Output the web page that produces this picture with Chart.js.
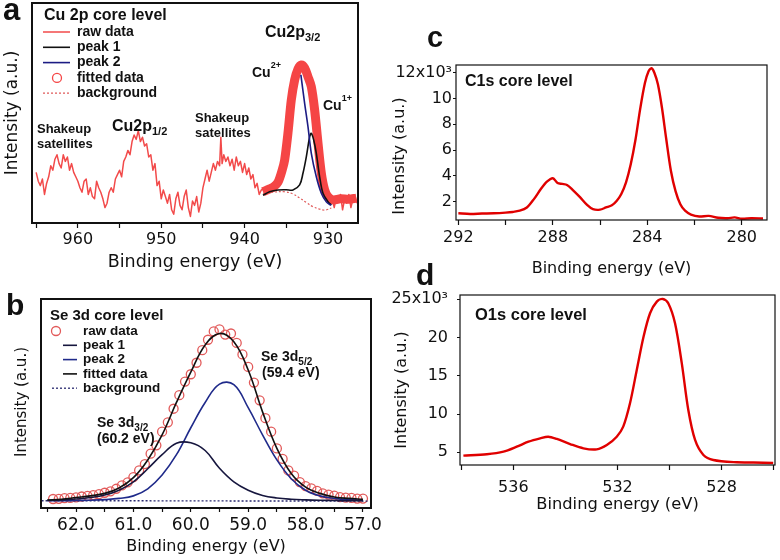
<!DOCTYPE html>
<html lang="en">
<head>
<meta charset="UTF-8">
<title>XPS core level spectra</title>
<style>
    body { margin: 0; background: #fff; }
    #wrap { position: relative; width: 780px; height: 560px; }
    #wrap canvas { position: absolute; left: 0; top: 0; }
</style>
</head>
<body>
<div id="wrap">
    <canvas id="cuChart" width="780" height="560"></canvas>
    <canvas id="seChart" width="780" height="560"></canvas>
    <canvas id="cChart" width="780" height="560"></canvas>
    <canvas id="oChart" width="780" height="560"></canvas>
</div>

<script src="https://cdn.jsdelivr.net/npm/chart.js"></script>
<script>
// ---- panel a : Cu 2p (arbitrary units, 0..100) ----
const cuRawEnergy = [965.0, 964.75, 964.5, 964.25, 964.0, 963.75, 963.5, 963.25, 963.0, 962.75, 962.5, 962.25, 962.0, 961.75, 961.5, 961.25,
    961.0, 960.75, 960.5, 960.25, 960.0, 959.75, 959.5, 959.25, 959.0, 958.75, 958.5, 958.25, 958.0, 957.75, 957.5, 957.25,
    957.0, 956.75, 956.5, 956.25, 956.0, 955.75, 955.5, 955.25, 955.0, 954.75, 954.5, 954.25, 954.0, 953.75, 953.5, 953.25,
    953.0, 952.75, 952.5, 952.25, 952.0, 951.75, 951.5, 951.25, 951.0, 950.75, 950.5, 950.25, 950.0, 949.75, 949.5, 949.25,
    949.0, 948.75, 948.5, 948.25, 948.0, 947.75, 947.5, 947.25, 947.0, 946.75, 946.5, 946.25, 946.0, 945.75, 945.5, 945.25,
    945.0, 944.75, 944.5, 944.25, 944.0, 943.75, 943.5, 943.25, 943.0, 942.85, 942.7, 942.5, 942.25, 942.0, 941.75, 941.5,
    941.25, 941.0, 940.75, 940.5, 940.25, 940.0, 939.75, 939.5, 939.25, 939.0, 938.75, 938.5, 938.25, 938.0, 937.5, 937.0,
    936.5, 936.0, 935.5, 935.0, 934.5, 934.0, 933.5, 933.0, 932.5, 932.0, 931.5, 931.0, 930.5, 930.0, 929.75, 929.5,
    929.25, 929.0, 928.75, 928.5, 928.25, 928.0, 927.75, 927.5, 927.25, 927.0, 926.75, 926.5];
const cuRaw = [23, 19, 17, 20, 13, 18, 21, 26, 24, 29, 31, 27, 25, 31, 28, 30,
    24, 27, 23, 21, 19, 16, 14, 19, 20, 13, 16, 12, 11, 19, 16, 14,
    11, 7, 9, 14, 16, 14, 20, 22, 24, 21, 28, 30, 33, 31, 37, 40,
    38, 42, 37, 39, 35, 36, 30, 31, 24, 27, 17, 19, 11, 15, 12, 9,
    13, 6, 4, 11, 14, 8, 6, 12, 15, 7, 3, 10, 8, 12, 5, 9,
    16, 20, 24, 19, 23, 27, 24, 28, 26, 39, 27, 31, 28, 30, 26, 29,
    24, 30, 26, 28, 23, 27, 22, 25, 20, 22, 16, 18, 13, 15, 16, 17,
    17, 19, 24, 33, 50, 63, 70, 71, 67, 60, 48, 30, 17, 12, 9, 11,
    7, 12, 10, 13, 6, 11, 9, 13, 7, 11, 12, 9];

const cuFitEnergy = [937.8, 937.0, 936.5, 936.0, 935.5, 935.2, 934.8, 934.4, 934.0, 933.6, 933.2, 932.8,
    932.4, 932.0, 931.6, 931.2, 930.8, 930.4, 930.0, 929.4, 928.5, 927.5, 926.6];
const cuFit = [14.2, 15.5, 16.5, 18.5, 24.0, 28.6, 40.9, 55.9, 65.0, 70.0, 71.8, 70.5,
    66.5, 62.0, 51.4, 36.4, 22.7, 15.0, 12.0, 10.5, 11.0, 10.8, 11.3];

const cuPeak1Energy = [937.8, 937.0, 936.0, 935.0, 934.2, 933.4, 933.0, 932.6, 932.2, 932.0, 931.7, 931.4, 931.0, 930.6, 930.0, 929.6];
const cuPeak1 = [12.6, 14.2, 15.0, 15.1, 15.0, 17.3, 22.6, 30.1, 39.2, 40.8, 37.5, 31.7, 21.0, 13.5, 9.7, 8.2];

const cuPeak2Energy = [933.25, 932.8, 932.4, 932.0, 931.4, 930.8, 930.2, 929.8, 929.6];
const cuPeak2 = [67.3, 54.4, 43.8, 31.7, 21.0, 13.5, 9.6, 8.4, 8.2];

const cuBgEnergy = [937.8, 936.6, 935.2, 934.2, 933.4, 932.6, 931.8, 931.0, 930.6, 930.2, 929.6];
const cuBg = [13.5, 14.0, 14.2, 13.2, 11.4, 9.3, 7.4, 6.3, 5.9, 6.0, 6.8];

// ---- panel b : Se 3d (arbitrary units, 0..100) ----
const seRawEnergy = [62.4, 62.3, 62.2, 62.1, 62.0, 61.9, 61.8, 61.7, 61.6, 61.5, 61.4, 61.3, 61.2, 61.1,
    61.0, 60.9, 60.8, 60.7, 60.6, 60.5, 60.4, 60.3, 60.2, 60.1, 60.0, 59.9, 59.8, 59.7, 59.6, 59.5,
    59.4, 59.3, 59.2, 59.1, 59.0, 58.9, 58.8, 58.7, 58.6, 58.5, 58.4, 58.3, 58.2, 58.1, 58.0, 57.9,
    57.8, 57.7, 57.6, 57.5, 57.4, 57.3, 57.2, 57.1, 57.0];
const seRaw = [4.3, 4.4, 4.7, 4.8, 5.1, 5.5, 5.8, 6.2, 6.6, 7.3, 8.0, 9.2, 10.8, 12.3,
    14.8, 18.0, 21.0, 26.0, 30.0, 36.5, 41.0, 47.5, 54.0, 60.5, 64.0, 69.5, 75.5, 80.5, 84.5, 85.5,
    83.0, 83.5, 79.0, 73.5, 67.5, 60.0, 51.5, 43.0, 36.5, 28.5, 23.5, 18.0, 15.5, 12.4, 10.5, 9.4,
    8.2, 7.0, 6.4, 5.9, 5.2, 5.0, 4.8, 4.5, 4.5];

const seEnergy = [62.5, 62.25, 62.0, 61.75, 61.5, 61.25, 61.0, 60.75, 60.5, 60.25, 60.0, 59.75,
    59.5, 59.25, 59.0, 58.75, 58.5, 58.25, 58.0, 57.75, 57.5, 57.25, 57.0];
const seFit = [3.8, 4.2, 5.0, 5.8, 7.0, 9.6, 14.5, 23.0, 35.0, 50.5, 65.0, 78.0,
    83.5, 79.5, 66.0, 46.0, 28.5, 16.5, 10.0, 7.0, 5.3, 4.6, 4.2];
const sePeak1 = [3.7, 3.9, 4.3, 5.0, 6.2, 8.5, 12.5, 18.8, 25.5, 31.0, 31.2, 27.5,
    19.0, 12.5, 8.5, 6.0, 4.8, 4.2, 3.9, 3.7, 3.6, 3.5, 3.5];
const sePeak2 = [3.5, 3.5, 3.6, 3.7, 4.0, 4.6, 5.8, 9.2, 15.8, 25.5, 38.4, 50.5,
    59.3, 59.0, 48.0, 35.0, 23.0, 14.0, 8.5, 5.8, 4.6, 4.0, 3.8];
const seBgEnergy = [62.6, 56.9];
const seBg = [3.5, 3.3];

// ---- panel c : C1s (x10^3 counts) ----
const c1sEnergy = [292.0, 291.5, 291.0, 290.5, 290.0, 289.7, 289.4, 289.1, 288.8, 288.5, 288.25, 288.0,
    287.8, 287.6, 287.4, 287.15, 286.85, 286.55, 286.3, 286.0, 285.75, 285.5, 285.3, 285.1,
    284.9, 284.7, 284.5, 284.3, 284.1, 283.95, 283.82, 283.7, 283.55, 283.38, 283.2, 283.0,
    282.8, 282.6, 282.4, 282.15, 281.8, 281.4, 281.0, 280.6, 280.3, 280.0, 279.6, 279.1];
const c1s = [1.1, 1.05, 1.08, 1.1, 1.15, 1.2, 1.3, 1.55, 2.2, 3.0, 3.55, 3.82,
    3.45, 3.38, 3.3, 2.9, 2.35, 1.75, 1.42, 1.38, 1.55, 1.72, 2.05, 2.6,
    3.5, 4.9, 6.8, 9.2, 11.2, 12.1, 12.35, 12.0, 11.1, 9.3, 6.9, 4.4,
    2.8, 1.8, 1.3, 1.0, 0.85, 0.9, 0.75, 0.72, 0.78, 0.68, 0.72, 0.7];

// ---- panel d : O1s (x10^3 counts) ----
const o1sEnergy = [537.92, 537.02, 536.38, 535.87, 535.42, 534.97, 534.66, 534.33, 533.82, 533.31, 532.8, 532.41,
    532.03, 531.78, 531.52, 531.26, 531.0, 530.75, 530.49, 530.26, 530.05, 529.79, 529.53, 529.28,
    529.02, 528.7, 528.32, 527.42, 526.78, 526.02];
const o1s = [4.56, 4.74, 5.08, 5.73, 6.39, 6.83, 7.04, 6.74, 6.08, 5.52, 5.39, 5.95,
    7.04, 8.35, 11.4, 15.76, 20.1, 23.17, 24.69, 25.04, 24.48, 21.86, 16.63, 10.53,
    6.61, 4.65, 3.99, 3.69, 3.67, 3.6];

const SANS = '"Liberation Sans", Arial, Helvetica, sans-serif';
const AXIS = '"DejaVu Sans", Verdana, sans-serif';
const INK = '#111';

function pts(xs, ys) {
    return xs.map((x, i) => ({ x: x, y: ys[i] }));
}

function onStep(v, step) {
    const r = v / step;
    return Math.abs(r - Math.round(r)) < 1e-6;
}

// ticks on every multiple of step inside [min, max], no extra bound ticks
function stepTicks(min, max, step) {
    const out = [];
    for (let k = Math.ceil(min / step - 1e-9); k * step <= max + 1e-9; k++) {
        out.push({ value: +(k * step).toFixed(6) });
    }
    return out;
}

// box around the plot area
const framePlugin = {
    id: 'frame',
    afterDatasetsDraw(chart, args, opts) {
        const { ctx, chartArea: a } = chart;
        ctx.save();
        ctx.strokeStyle = opts.color || INK;
        ctx.lineWidth = opts.width || 1;
        ctx.strokeRect(a.left, a.top, a.right - a.left, a.bottom - a.top);
        ctx.restore();
    }
};

function drawRich(ctx, x, y, parts) {
    parts.forEach(p => {
        ctx.font = 'bold ' + p[1] + 'px ' + SANS;
        ctx.fillText(p[0], x, y + (p[2] || 0));
        x += ctx.measureText(p[0]).width;
    });
}

// annotations, y titles, panel letter and the in-plot legend
const notesPlugin = {
    id: 'notes',
    afterDraw(chart, args, opts) {
        const ctx = chart.ctx;
        ctx.save();
        ctx.fillStyle = INK;
        ctx.textAlign = 'left';
        ctx.textBaseline = 'middle';
        (opts.texts || []).forEach(t => drawRich(ctx, t.x, t.y, t.parts));

        if (opts.letter) {
            ctx.textBaseline = 'alphabetic';
            ctx.font = 'bold ' + opts.letter.size + 'px ' + SANS;
            ctx.fillText(opts.letter.text, opts.letter.x, opts.letter.y);
        }

        if (opts.yTitle) {
            const t = opts.yTitle;
            ctx.save();
            ctx.translate(t.x, t.y);
            ctx.rotate(-Math.PI / 2);
            ctx.textAlign = 'center';
            ctx.textBaseline = 'middle';
            ctx.font = t.size + 'px ' + AXIS;
            ctx.fillText(t.text, 0, 0);
            ctx.restore();
        }

        const lg = opts.legend;
        if (lg) {
            ctx.textBaseline = 'middle';
            ctx.font = 'bold ' + lg.titleSize + 'px ' + SANS;
            ctx.fillText(lg.title, lg.x, lg.y);
            lg.items.forEach((it, i) => {
                const ds = chart.data.datasets.find(d => d.label === it.label);
                const y = lg.y + lg.first + i * lg.gap;
                const color = ds.pointBorderColor || ds.borderColor;
                ctx.save();
                ctx.strokeStyle = color;
                if (it.marker === 'circle') {
                    ctx.lineWidth = 1.3;
                    ctx.beginPath();
                    ctx.arc(lg.circleX, y, 4.5, 0, Math.PI * 2);
                    ctx.stroke();
                } else {
                    ctx.lineWidth = it.width || Math.min(ds.borderWidth, 2);
                    ctx.setLineDash(ds.borderDash || []);
                    ctx.beginPath();
                    ctx.moveTo(it.x0 || lg.lineX0, y);
                    ctx.lineTo(lg.lineX1, y);
                    ctx.stroke();
                }
                ctx.restore();
                ctx.font = 'bold ' + lg.size + 'px ' + SANS;
                ctx.fillText(it.label, lg.textX, y);
            });
        }
        ctx.restore();
    }
};

function energyAxis(o) {
    return {
        type: 'linear',
        reverse: true,
        min: o.min,
        max: o.max,
        afterBuildTicks: s => { s.ticks = stepTicks(o.min, o.max, o.step); },
        afterFit: s => { s.height = o.height; },
        ticks: {
            stepSize: o.step,
            maxTicksLimit: 100,
            autoSkip: false,
            maxRotation: 0,
            color: INK,
            padding: o.tickPad,
            font: { family: AXIS, size: o.tickSize },
            callback: v => onStep(v, o.major) ? v.toFixed(o.decimals) : ''
        },
        grid: { drawOnChartArea: false, drawTicks: true, tickLength: o.tickLen, tickColor: INK, tickWidth: 1.2 },
        border: { display: false },
        title: {
            display: true,
            text: 'Binding energy (eV)',
            color: INK,
            font: { family: AXIS, size: o.titleSize },
            padding: { top: 0, bottom: o.titlePad }
        }
    };
}

function plainAxis(width) {
    return {
        type: 'linear',
        min: 0,
        max: 100,
        afterFit: s => { s.width = width; },
        ticks: { display: false },
        grid: { display: false },
        border: { display: false }
    };
}

function countsAxis(o) {
    return {
        type: 'linear',
        min: o.min,
        max: o.max,
        afterBuildTicks: s => { s.ticks = stepTicks(o.min, o.max, o.step); },
        afterFit: s => { s.width = o.width; },
        ticks: {
            stepSize: o.step,
            autoSkip: false,
            color: INK,
            padding: o.tickPad,
            font: { family: AXIS, size: 16 },
            callback: v => v === o.top ? v + 'x10\u00b3' : String(v)
        },
        grid: { drawOnChartArea: false, drawTicks: true, tickLength: 3, tickColor: INK },
        border: { display: false }
    };
}

function makeChart(id, datasets, xAxis, yAxis, pad, notes, frameWidth) {
    return new Chart(document.getElementById(id), {
        type: 'line',
        data: { datasets: datasets },
        options: {
            responsive: false,
            animation: false,
            events: [],
            layout: { padding: pad },
            elements: { point: { radius: 0 }, line: { fill: false, borderJoinStyle: 'round' } },
            plugins: {
                legend: { display: false },
                tooltip: { enabled: false },
                frame: { width: frameWidth, color: INK },
                notes: notes
            },
            scales: { x: xAxis, y: yAxis }
        },
        plugins: [framePlugin, notesPlugin]
    });
}

// ---------- a ----------
makeChart('cuChart', [
    { label: 'peak 2', data: pts(cuPeak2Energy, cuPeak2), borderColor: '#1c1c84', borderWidth: 1.6, tension: 0.35 },
    { label: 'peak 1', data: pts(cuPeak1Energy, cuPeak1), borderColor: '#111', borderWidth: 1.6, tension: 0.35 },
    { label: 'background', data: pts(cuBgEnergy, cuBg), borderColor: '#e05a5a', borderWidth: 1.2, borderDash: [2, 2], tension: 0.4 },
    { label: 'fitted data', data: pts(cuFitEnergy, cuFit), borderColor: '#f54545', borderWidth: 9, tension: 0.3 },
    { label: 'raw data', data: pts(cuRawEnergy, cuRaw), borderColor: '#f24a4a', borderWidth: 1.5, tension: 0 }
],
    energyAxis({ min: 926.4, max: 965.5, step: 5, major: 10, decimals: 0, height: 52, tickLen: 5, tickPad: 2.5, tickSize: 16, titleSize: 17.5, titlePad: 2.5 }),
    plainAxis(30),
    { left: 2, top: 3, right: 422, bottom: 285 },
    {
        letter: { text: 'a', x: 3, y: 20, size: 31 },
        yTitle: { text: 'Intensity (a.u.)', x: 13, y: 113, size: 17 },
        texts: [
            { x: 265, y: 33, parts: [['Cu2p', 16], ['3/2', 11, 5]] },
            { x: 252, y: 73, parts: [['Cu', 14], ['2+', 9, -7]] },
            { x: 323, y: 106, parts: [['Cu', 14], ['1+', 9, -7]] },
            { x: 37, y: 129, parts: [['Shakeup', 13]] },
            { x: 37, y: 144, parts: [['satellites', 13]] },
            { x: 112, y: 127, parts: [['Cu2p', 16], ['1/2', 11, 5]] },
            { x: 195, y: 118, parts: [['Shakeup', 13]] },
            { x: 195, y: 133, parts: [['satellites', 13]] }
        ],
        legend: {
            title: 'Cu 2p core level', titleSize: 16, x: 44, y: 16, first: 16, gap: 15.3,
            size: 14, textX: 77, lineX0: 43, lineX1: 70, circleX: 57,
            items: [
                { label: 'raw data' },
                { label: 'peak 1' },
                { label: 'peak 2' },
                { label: 'fitted data', marker: 'circle' },
                { label: 'background', width: 1.2 }
            ]
        }
    }, 2);

// ---------- b ----------
makeChart('seChart', [
    { label: 'fitted data', data: pts(seEnergy, seFit), borderColor: '#111', borderWidth: 1.6, tension: 0.4 },
    { label: 'peak 1', data: pts(seEnergy, sePeak1), borderColor: '#16163e', borderWidth: 1.6, tension: 0.4 },
    { label: 'peak 2', data: pts(seEnergy, sePeak2), borderColor: '#1f2a8a', borderWidth: 1.6, tension: 0.4 },
    { label: 'background', data: pts(seBgEnergy, seBg), borderColor: '#2a2a70', borderWidth: 1.4, borderDash: [2, 2] },
    {
        label: 'raw data', data: pts(seRawEnergy, seRaw), showLine: false,
        pointRadius: 4.5, pointStyle: 'circle', pointBorderColor: '#e25a5a', pointBackgroundColor: 'rgba(0,0,0,0)', pointBorderWidth: 1.3
    }
],
    energyAxis({ min: 56.86, max: 62.61, step: 0.5, major: 1, decimals: 1, height: 52, tickLen: 4, tickPad: 3, tickSize: 17, titleSize: 16, titlePad: 3.4 }),
    plainAxis(30),
    { left: 11, top: 299, right: 409, bottom: 0 },
    {
        letter: { text: 'b', x: 6, y: 315, size: 30 },
        yTitle: { text: 'Intensity (a.u.)', x: 22, y: 402, size: 15 },
        texts: [
            { x: 261, y: 357, parts: [['Se 3d', 14], ['5/2', 10, 5]] },
            { x: 262, y: 373, parts: [['(59.4 eV)', 14]] },
            { x: 97, y: 423, parts: [['Se 3d', 14], ['3/2', 10, 5]] },
            { x: 97, y: 439, parts: [['(60.2 eV)', 14]] }
        ],
        legend: {
            title: 'Se 3d core level', titleSize: 15, x: 50, y: 316, first: 15, gap: 14.3,
            size: 13.5, textX: 83, lineX0: 63, lineX1: 77, circleX: 56,
            items: [
                { label: 'raw data', marker: 'circle' },
                { label: 'peak 1' },
                { label: 'peak 2' },
                { label: 'fitted data' },
                { label: 'background', x0: 52, width: 1.3 }
            ]
        }
    }, 2);

// ---------- c ----------
makeChart('cChart', [
    { label: 'C1s', data: pts(c1sEnergy, c1s), borderColor: '#e00000', borderWidth: 2.4, tension: 0.3 }
],
    energyAxis({ min: 278.93, max: 292.1, step: 2, major: 4, decimals: 0, height: 60, tickLen: 5, tickPad: 3.4, tickSize: 16, titleSize: 16, titlePad: 1.4 }),
    countsAxis({ min: 0.58, max: 12.6, step: 2, top: 12, width: 65, tickPad: 1 }),
    { left: 391, top: 65, right: 13, bottom: 280 },
    {
        letter: { text: 'c', x: 427, y: 47, size: 29 },
        yTitle: { text: 'Intensity (a.u.)', x: 400, y: 156, size: 16 },
        texts: [{ x: 465, y: 82, parts: [['C1s core level', 16]] }]
    }, 1.2);

// ---------- d ----------
makeChart('oChart', [
    { label: 'O1s', data: pts(o1sEnergy, o1s), borderColor: '#e00000', borderWidth: 2.4, tension: 0.3 }
],
    energyAxis({ min: 525.95, max: 538.05, step: 2, major: 4, decimals: 0, height: 52, tickLen: 5, tickPad: 8.4, tickSize: 16, titleSize: 16.3, titlePad: 2.2 }),
    countsAxis({ min: 3.34, max: 25.56, step: 5, top: 25, width: 68, tickPad: 9 }),
    { left: 392, top: 295, right: 5, bottom: 43 },
    {
        letter: { text: 'd', x: 416, y: 285, size: 30 },
        yTitle: { text: 'Intensity (a.u.)', x: 402, y: 390, size: 16 },
        texts: [{ x: 475, y: 315, parts: [['O1s core level', 16.5]] }]
    }, 1.2);
</script>
</body>
</html>
